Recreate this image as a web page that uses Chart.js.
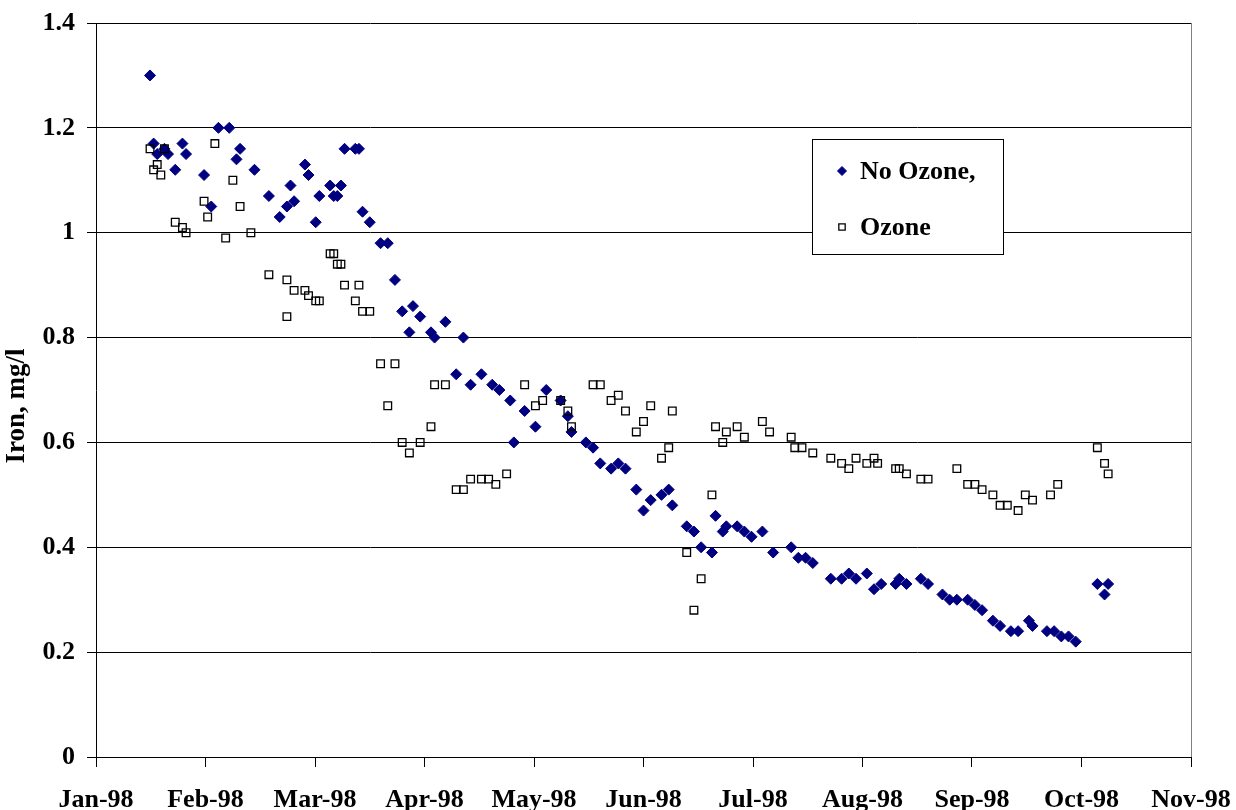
<!DOCTYPE html>
<html>
<head>
<meta charset="utf-8">
<title>Iron, mg/l</title>
<script src="https://cdn.jsdelivr.net/npm/chart.js@4.4.1/dist/chart.umd.min.js"></script>
<style>
  html, body { margin: 0; padding: 0; background: #fff; }
  #wrap { width: 1236px; height: 810px; position: relative; }
</style>
</head>
<body>
<div id="wrap"><canvas id="iron-chart"></canvas></div>
<script>
// x axis tick labels, one every 30.4 days from Jan 1 1998
var months = ["Jan-98", "Feb-98", "Mar-98", "Apr-98", "May-98", "Jun-98", "Jul-98", "Aug-98", "Sep-98", "Oct-98", "Nov-98"];
var daysPerTick = 30.4;
var yTitle = 'Iron, mg/l';

// days since Jan 1 1998, iron in mg/l
var noOzoneDays = [15, 16, 17, 19, 20, 22, 24, 25, 30, 32, 34, 37, 39, 40, 44, 48, 51, 53, 54, 55,
  58, 59, 61, 62, 65, 66, 67, 68, 69, 72, 73, 74, 76, 79, 81, 83, 85, 87, 88, 90,
  93, 94, 97, 100, 102, 104, 107, 110, 112, 115, 116, 119, 122, 125, 129, 131, 132, 136, 138, 140,
  143, 145, 147, 150, 152, 154, 157, 159, 160, 164, 166, 168, 171, 172, 174, 175, 178, 180, 182, 185,
  188, 193, 195, 197, 199, 204, 207, 209, 211, 214, 216, 218, 222, 223, 225, 229, 231, 235, 237, 239,
  242, 244, 246, 249, 251, 254, 256, 259, 260, 264, 266, 268, 270, 272, 278, 280, 281];
var noOzoneIron = [1.30, 1.17, 1.15, 1.16, 1.15, 1.12, 1.17, 1.15, 1.11, 1.05, 1.20, 1.20, 1.14, 1.16, 1.12, 1.07, 1.03, 1.05, 1.09, 1.06,
  1.13, 1.11, 1.02, 1.07, 1.09, 1.07, 1.07, 1.09, 1.16, 1.16, 1.16, 1.04, 1.02, 0.98, 0.98, 0.91, 0.85, 0.81, 0.86, 0.84,
  0.81, 0.80, 0.83, 0.73, 0.80, 0.71, 0.73, 0.71, 0.70, 0.68, 0.60, 0.66, 0.63, 0.70, 0.68, 0.65, 0.62, 0.60, 0.59, 0.56,
  0.55, 0.56, 0.55, 0.51, 0.47, 0.49, 0.50, 0.51, 0.48, 0.44, 0.43, 0.40, 0.39, 0.46, 0.43, 0.44, 0.44, 0.43, 0.42, 0.43,
  0.39, 0.40, 0.38, 0.38, 0.37, 0.34, 0.34, 0.35, 0.34, 0.35, 0.32, 0.33, 0.33, 0.34, 0.33, 0.34, 0.33, 0.31, 0.30, 0.30,
  0.30, 0.29, 0.28, 0.26, 0.25, 0.24, 0.24, 0.26, 0.25, 0.24, 0.24, 0.23, 0.23, 0.22, 0.33, 0.31, 0.33];

var ozoneDays = [15, 16, 17, 18, 19, 22, 24, 25, 30, 31, 33, 36, 38, 40, 43, 48, 53, 53, 55, 58,
  59, 61, 62, 65, 66, 67, 68, 69, 72, 73, 74, 76, 79, 81, 83, 85, 87, 90, 93, 94,
  97, 100, 102, 104, 107, 109, 111, 114, 119, 122, 124, 129, 131, 132, 138, 140, 143, 145, 147, 150,
  152, 154, 157, 159, 160, 164, 166, 168, 171, 172, 174, 175, 178, 180, 185, 187, 193, 194, 196, 199,
  204, 207, 209, 211, 214, 216, 217, 222, 223, 225, 229, 231, 239, 242, 244, 246, 249, 251, 253, 256,
  258, 260, 265, 267, 278, 280, 281];
var ozoneIron = [1.16, 1.12, 1.13, 1.11, 1.16, 1.02, 1.01, 1.00, 1.06, 1.03, 1.17, 0.99, 1.10, 1.05, 1.00, 0.92, 0.91, 0.84, 0.89, 0.89,
  0.88, 0.87, 0.87, 0.96, 0.96, 0.94, 0.94, 0.90, 0.87, 0.90, 0.85, 0.85, 0.75, 0.67, 0.75, 0.60, 0.58, 0.60, 0.63, 0.71,
  0.71, 0.51, 0.51, 0.53, 0.53, 0.53, 0.52, 0.54, 0.71, 0.67, 0.68, 0.68, 0.66, 0.63, 0.71, 0.71, 0.68, 0.69, 0.66, 0.62,
  0.64, 0.67, 0.57, 0.59, 0.66, 0.39, 0.28, 0.34, 0.50, 0.63, 0.60, 0.62, 0.63, 0.61, 0.64, 0.62, 0.61, 0.59, 0.59, 0.58,
  0.57, 0.56, 0.55, 0.57, 0.56, 0.57, 0.56, 0.55, 0.55, 0.54, 0.53, 0.53, 0.55, 0.52, 0.52, 0.51, 0.50, 0.48, 0.48, 0.47,
  0.50, 0.49, 0.50, 0.52, 0.59, 0.56, 0.54];

function points(xs, ys) {
  return xs.map(function(x, i) { return { x: x, y: ys[i] }; });
}

var serif = "'Liberation Serif', 'Times New Roman', serif";

// y title, legend box and plot border, drawn like the original
var extras = {
  id: 'extras',
  afterDraw: function(chart) {
    var ctx = chart.ctx;
    var area = chart.chartArea;
    ctx.save();
    ctx.strokeStyle = '#808080';
    ctx.lineWidth = 1;
    ctx.beginPath();
    ctx.moveTo(Math.round(area.right) + 0.5, area.top);
    ctx.lineTo(Math.round(area.right) + 0.5, area.bottom);
    ctx.stroke();

    ctx.save();
    ctx.translate(17, 406);
    ctx.rotate(-Math.PI / 2);
    ctx.font = 'bold 27px ' + serif;
    ctx.fillStyle = '#000';
    ctx.textAlign = 'center';
    ctx.textBaseline = 'middle';
    ctx.fillText(yTitle, 0, 0);
    ctx.restore();

    ctx.fillStyle = '#fff';
    ctx.fillRect(812, 139, 192, 115);
    ctx.strokeStyle = '#000';
    ctx.strokeRect(812.5, 139.5, 191, 115);

    ctx.font = 'bold 26px ' + serif;
    ctx.textBaseline = 'middle';
    chart.data.datasets.forEach(function(ds, i) {
      var y = 171 + i * 56;
      ctx.fillStyle = ds.backgroundColor;
      ctx.strokeStyle = ds.borderColor;
      ctx.lineWidth = ds.borderWidth;
      Chart.helpers.drawPoint(ctx, { pointStyle: ds.pointStyle, radius: 4.5, borderWidth: ds.borderWidth }, 842, y);
      ctx.fillStyle = '#000';
      ctx.fillText(ds.label, 860, y + 1);
    });
    ctx.restore();
  }
};

var ctx = document.getElementById("iron-chart").getContext('2d');
var myChart = new Chart(ctx, {
  type: 'scatter',
  data: {
    datasets: [{
      label: 'No Ozone,',
      data: points(noOzoneDays, noOzoneIron),
      pointStyle: 'rectRot',
      pointRadius: 5.5,
      backgroundColor: '#000080',
      borderColor: '#000080',
      borderWidth: 1,
      order: 2
    }, {
      label: 'Ozone',
      data: points(ozoneDays, ozoneIron),
      pointStyle: 'rect',
      pointRadius: 5.4,
      backgroundColor: 'rgba(0,0,0,0)',
      borderColor: '#000',
      borderWidth: 1.3,
      order: 1
    }]
  },
  options: {
    responsive: true,
    maintainAspectRatio: false,
    animation: false,
    layout: { padding: { left: 0, right: 45, top: 23, bottom: 0 } },
    plugins: {
      legend: { display: false },
      tooltip: { enabled: false }
    },
    scales: {
      x: {
        type: 'linear',
        min: 0,
        max: months.length * daysPerTick - daysPerTick,
        afterFit: function(scale) {
          scale.height = 53;
          scale.paddingLeft = 0;
          scale.paddingRight = 0;
        },
        ticks: {
          stepSize: daysPerTick,
          padding: 18,
          maxRotation: 0,
          color: '#000',
          font: { family: serif, size: 26, weight: 'bold' },
          callback: function(value) { return months[Math.round(value / daysPerTick)]; }
        },
        grid: { drawOnChartArea: false, tickLength: 10, color: '#000' },
        border: { color: '#000' }
      },
      y: {
        min: 0,
        max: 1.4,
        afterFit: function(scale) {
          scale.width = 96;
          scale.paddingTop = 0;
          scale.paddingBottom = 0;
        },
        ticks: {
          stepSize: 0.2,
          padding: 12,
          color: '#000',
          font: { family: serif, size: 26, weight: 'bold' },
          callback: function(value) { return String(+value.toFixed(1)); }
        },
        grid: { color: '#000', tickLength: 9 },
        border: { color: '#000' }
      }
    }
  },
  plugins: [extras]
});
</script>
</body>
</html>
